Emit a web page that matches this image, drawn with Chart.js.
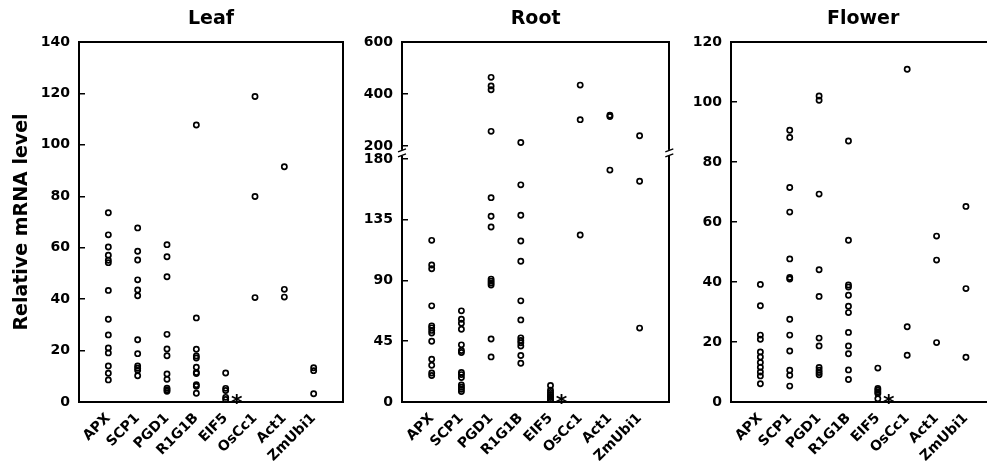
<!DOCTYPE html>
<html>
<head>
<meta charset="utf-8">
<script src="https://cdn.jsdelivr.net/npm/chart.js@4.4.0/dist/chart.umd.min.js"></script>
<style>
  html, body { margin: 0; padding: 0; background: #fff; overflow: hidden; }
  body { width: 987px; height: 463px; position: relative; }
  .panel { position: absolute; top: 0; height: 463px; }
  #leaf { left: 0; width: 350px; }
  #root { left: 340px; width: 335px; }
  #flower { left: 675px; width: 326px; }
</style>
</head>
<body>
<div class="panel" id="leaf"><canvas id="leaf-chart"></canvas></div>
<div class="panel" id="root"><canvas id="root-chart"></canvas></div>
<div class="panel" id="flower"><canvas id="flower-chart"></canvas></div>
<script>
const genes = ["APX", "SCP1", "PGD1", "R1G1B", "EIF5", "OsCc1", "Act1", "ZmUbi1"];

// relative mRNA level, one list per gene (same order as genes)
const leafValues = [
  [73.6, 65.0, 60.3, 57.1, 55.1, 54.2, 43.4, 32.2, 26.1, 21.0, 19.1, 14.0, 11.2, 8.6],
  [67.7, 58.6, 55.2, 47.5, 43.6, 41.3, 24.2, 18.8, 14.0, 13.1, 12.3, 10.2],
  [61.2, 56.5, 48.7, 26.3, 20.6, 18.0, 10.9, 8.8, 5.4, 4.8, 4.2],
  [107.7, 32.7, 20.5, 17.9, 17.1, 13.5, 11.5, 11.1, 6.7, 6.1, 3.4],
  [11.3, 5.3, 4.5, 1.8, 1.0],
  [118.8, 79.9, 40.6],
  [91.5, 43.8, 40.8],
  [13.3, 12.2, 3.2],
];
const rootValues = [
  [119.7, 101.4, 98.7, 71.2, 56.4, 54.9, 53.0, 51.0, 45.0, 31.7, 27.2, 21.5, 19.6],
  [67.5, 61.3, 58.4, 53.9, 42.3, 38.1, 36.6, 21.8, 20.3, 18.1, 12.6, 10.9, 9.4, 7.7],
  [464, 431, 416, 256, 151.3, 137.5, 129.6, 91.0, 89.5, 88.1, 86.6, 46.7, 33.4],
  [213, 160.8, 138.3, 119.2, 104.2, 74.9, 60.8, 47.5, 45.5, 43.8, 41.5, 34.4, 28.7],
  [12.2, 8.7, 7.0, 5.5, 4.2, 3.3, 1.8, 0.7],
  [434, 301, 123.7],
  [318, 313, 171.7],
  [239, 163.5, 54.7],
];
const flowerValues = [
  [39.2, 32.1, 22.3, 20.9, 16.7, 15.0, 13.2, 11.6, 10.0, 8.7, 6.1],
  [90.6, 88.2, 71.5, 63.3, 47.7, 41.5, 41.0, 27.6, 22.3, 17.0, 10.6, 8.9, 5.3],
  [102.0, 100.6, 69.3, 44.1, 35.2, 21.3, 18.7, 11.5, 10.6, 9.8, 9.1],
  [87.0, 53.9, 39.0, 38.3, 35.6, 31.9, 29.8, 23.2, 18.7, 16.1, 10.7, 7.5],
  [11.3, 4.5, 3.9, 3.3, 2.8, 1.1],
  [110.9, 25.1, 15.6],
  [55.3, 47.3, 19.8],
  [65.2, 37.8, 14.9],
];

const leafTicks = [0, 20, 40, 60, 80, 100, 120, 140];
const rootLowTicks = [0, 45, 90, 135, 180];
const rootHighTicks = [200, 400, 600];
const flowerTicks = [0, 20, 40, 60, 80, 100, 120];
const rootBreak = 190; // values above this sit on the upper root axis
const starGene = "EIF5";

Chart.defaults.font.family = "'DejaVu Sans', sans-serif";
Chart.defaults.color = "#000";

function toPoints(values, keep) {
  return values.flatMap((list, i) => list.filter(keep).map((v) => ({ x: i + 1, y: v })));
}

function dotSet(data, yAxisID) {
  return {
    data,
    yAxisID,
    pointStyle: "circle",
    pointRadius: 2.6,
    borderWidth: 1.7,
    borderColor: "#000",
    backgroundColor: "rgba(0,0,0,0)",
    showLine: false,
  };
}

// negative tickLength puts the tick marks inside the plot
function yAxis(min, max, ticks, width, extra) {
  return {
    type: "linear",
    position: "left",
    min,
    max,
    afterBuildTicks: (s) => { s.ticks = ticks.map((v) => ({ value: v })); },
    ticks: { autoSkip: false, padding: 15, font: { size: 14, weight: "bold" } },
    grid: { drawOnChartArea: false, drawTicks: true, tickLength: -6, color: "#000", lineWidth: 1.5 },
    border: { display: true, color: "#000", width: 2 },
    afterFit: (s) => { s.width = width; },
    ...extra,
  };
}

function frameScales(rightWidth) {
  return {
    x: {
      type: "linear",
      min: 0,
      max: 9,
      afterBuildTicks: (s) => { s.ticks = genes.map((g, i) => ({ value: i + 1 })); },
      ticks: {
        autoSkip: false,
        maxRotation: 45,
        minRotation: 45,
        padding: 8,
        font: { size: 14, weight: "bold" },
        callback: (v) => genes[v - 1],
      },
      grid: { display: false, drawTicks: false },
      border: { display: true, color: "#000", width: 2 },
      afterFit: (s) => { s.height = 61; },
    },
    xTop: {
      type: "linear",
      position: "top",
      ticks: { display: false },
      grid: { display: false, drawTicks: false },
      border: { display: true, color: "#000", width: 2 },
      afterFit: (s) => { s.height = 0; },
    },
    yRight: {
      type: "linear",
      position: "right",
      ticks: { display: false },
      grid: { display: false, drawTicks: false },
      border: { display: true, color: "#000", width: 2 },
      afterFit: (s) => { s.width = rightWidth; },
    },
  };
}

function baseOptions(title, scales) {
  return {
    responsive: true,
    maintainAspectRatio: false,
    animation: false,
    events: [],
    layout: { padding: 0 },
    scales,
    plugins: {
      legend: { display: false },
      tooltip: { enabled: false },
      title: {
        display: true,
        text: title,
        fullSize: false,
        color: "#000",
        font: { size: 19, weight: "bold", lineHeight: 1.2 },
        padding: { top: 8, bottom: 11.2 },
      },
    },
  };
}

// asterisk next to the EIF5 column
function starPlugin(yId) {
  return {
    id: "star",
    afterDatasetsDraw(chart) {
      const ctx = chart.ctx;
      const x = chart.scales.x.getPixelForValue(genes.indexOf(starGene) + 1) + 11;
      const y = chart.scales[yId].getPixelForValue(0);
      ctx.save();
      ctx.fillStyle = "#000";
      ctx.font = "bold 22px 'DejaVu Sans'";
      ctx.textAlign = "center";
      ctx.textBaseline = "alphabetic";
      ctx.fillText("*", x, y + 8);
      ctx.restore();
    },
  };
}

// break marks on the root y axes
const breakPlugin = {
  id: "axisBreak",
  afterDraw(chart) {
    const ctx = chart.ctx;
    const yb = chart.scales.yLow.top - 6;
    [chart.chartArea.left, chart.chartArea.right].forEach((x) => {
      ctx.save();
      ctx.fillStyle = "#fff";
      ctx.fillRect(x - 5, yb - 3, 10, 6);
      ctx.strokeStyle = "#000";
      ctx.lineWidth = 1.3;
      ctx.beginPath();
      ctx.moveTo(x - 4, yb - 1);
      ctx.lineTo(x + 4, yb - 4);
      ctx.moveTo(x - 4, yb + 4);
      ctx.lineTo(x + 4, yb + 1);
      ctx.stroke();
      ctx.restore();
    });
  },
};

// Leaf
(function leafChart() {
  const scales = frameScales(7);
  scales.y = yAxis(0, 140, leafTicks, 79, {
    title: {
      display: true,
      text: "Relative mRNA level",
      color: "#000",
      font: { size: 19, weight: "bold" },
      padding: { top: 10.6, bottom: 0 },
    },
  });
  new Chart(document.getElementById("leaf-chart"), {
    type: "scatter",
    data: { datasets: [dotSet(toPoints(leafValues, () => true), "y")] },
    options: baseOptions("Leaf", scales),
    plugins: [starPlugin("y")],
  });
})();

// Root (broken axis: two stacked y scales)
(function rootChart() {
  const scales = frameScales(5);
  scales.yLow = yAxis(0, 180, rootLowTicks, 62, { stack: "root", stackWeight: 242.7 });
  scales.yHigh = yAxis(150, 600, rootHighTicks, 62, { stack: "root", stackWeight: 116.7 });
  new Chart(document.getElementById("root-chart"), {
    type: "scatter",
    data: {
      datasets: [
        dotSet(toPoints(rootValues, (v) => v < rootBreak), "yLow"),
        dotSet(toPoints(rootValues, (v) => v >= rootBreak), "yHigh"),
      ],
    },
    options: baseOptions("Root", scales),
    plugins: [starPlugin("yLow"), breakPlugin],
  });
})();

// Flower
(function flowerChart() {
  const scales = frameScales(5.4);
  scales.y = yAxis(0, 120, flowerTicks, 56);
  new Chart(document.getElementById("flower-chart"), {
    type: "scatter",
    data: { datasets: [dotSet(toPoints(flowerValues, () => true), "y")] },
    options: baseOptions("Flower", scales),
    plugins: [starPlugin("y")],
  });
})();
</script>
</body>
</html>
